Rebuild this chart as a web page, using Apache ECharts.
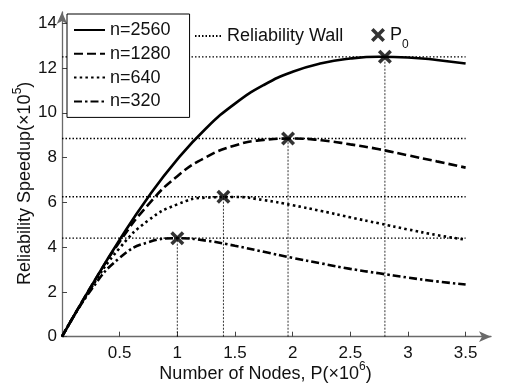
<!DOCTYPE html>
<html>
<head>
<meta charset="utf-8">
<script src="https://cdn.jsdelivr.net/npm/echarts@6/dist/echarts.min.js"></script>
<style>html,body{margin:0;padding:0;background:#fff;}#c{width:505px;height:391px;}</style>
</head>
<body>
<div id="c"></div>
<script>
// Number of nodes P (x10^6)
const P = [0, 0.25, 0.5, 0.75, 1, 1.25, 1.5, 1.75, 2, 2.25, 2.5, 2.75, 3, 3.25, 3.5];
// Reliability speedup (x10^5) per problem size
const n2560 = [0, 2.22, 4.33, 6.25, 7.92, 9.31, 10.41, 11.24, 11.83, 12.21, 12.42, 12.50, 12.47, 12.36, 12.20];
const n1280 = [0, 2.22, 4.24, 5.91, 7.17, 8.02, 8.54, 8.79, 8.85, 8.77, 8.59, 8.37, 8.10, 7.83, 7.55];
const n640  = [0, 2.16, 3.96, 5.20, 5.91, 6.21, 6.24, 6.10, 5.87, 5.61, 5.33, 5.06, 4.79, 4.54, 4.33];
const n320  = [0, 2.07, 3.52, 4.22, 4.40, 4.29, 4.06, 3.79, 3.52, 3.27, 3.03, 2.83, 2.64, 2.47, 2.33];
const seriesNames = ['n=2560', 'n=1280', 'n=640', 'n=320'];
// Reliability wall points P0
const peakP = [2.8, 1.96, 1.4, 1.0];
const peakS = [12.5, 8.85, 6.25, 4.4];
const wallEnd = 3.5;
const xTicks = [0.5, 1, 1.5, 2, 2.5, 3, 3.5];
const yTicks = [0, 2, 4, 6, 8, 10, 12, 14];

const FONT = 'Liberation Sans';
const curves = [n2560, n1280, n640, n320];
const dashTypes = ['solid', [9, 4], [2.5, 3.2], [8, 3, 2.5, 3]];

const series = [];
// reliability wall horizontal lines
peakS.forEach(function (s) {
  series.push({
    name: 'Reliability Wall', type: 'line', symbol: 'none', silent: true,
    data: [[0, s], [wallEnd, s]],
    lineStyle: { color: '#000', width: 1.3, type: [1.5, 2] },
    itemStyle: { color: '#000' }, z: 1
  });
});
peakP.forEach(function (p, i) {
  series.push({
    name: 'Reliability Wall', type: 'line', symbol: 'none', silent: true,
    data: [[p, 0], [p, peakS[i]]],
    lineStyle: { color: '#000', width: 0.8, type: [2, 1.5] },
    itemStyle: { color: '#000' }, z: 1
  });
});
curves.forEach(function (c, i) {
  series.push({
    name: seriesNames[i], type: 'line', symbol: 'none', smooth: true,
    data: P.map(function (p, j) { return [p, c[j]]; }),
    lineStyle: { color: '#000', width: 2.6, type: dashTypes[i], cap: 'butt' },
    itemStyle: { color: '#000' }, z: 3
  });
});
const xPath = 'path://M0,1.8L1.8,0L5,3.2L8.2,0L10,1.8L6.8,5L10,8.2L8.2,10L5,6.8L1.8,10L0,8.2L3.2,5Z';
series.push({
  name: 'P0', type: 'scatter', symbol: xPath, symbolSize: 14,
  data: peakP.map(function (p, i) { return [p, peakS[i]]; }),
  itemStyle: { color: '#000' }, z: 5
});

const chart = echarts.init(document.getElementById('c'), null, { renderer: 'canvas' });
chart.setOption({
  animation: false,
  backgroundColor: '#fff',
  textStyle: { fontFamily: FONT },
  grid: { left: 62, top: 12, right: 14, bottom: 54.3, containLabel: false, outerBoundsMode: 'none' },
  xAxis: {
    type: 'value', min: 0, max: 3.72,
    splitLine: { show: false },
    axisLine: { show: true, onZero: false, symbol: ['none', 'arrow'], symbolSize: [8, 12],
      lineStyle: { color: '#6a6a6a', width: 1.3 } },
    axisTick: { show: true, inside: true, length: 5, customValues: xTicks, lineStyle: { color: '#444' } },
    axisLabel: { customValues: xTicks, fontSize: 17, color: '#111', margin: 8, fontFamily: FONT },
    name: '{a|Number of Nodes, P(×10}{s|6}{a|)}',
    nameLocation: 'middle', nameGap: 24, nameMoveOverlap: false,
    nameTextStyle: {
      padding: [0, 22, 0, 0],
      rich: {
        a: { fontSize: 18, color: '#111', fontFamily: FONT, lineHeight: 22, verticalAlign: 'bottom' },
        s: { fontSize: 12, color: '#111', fontFamily: FONT, lineHeight: 22, verticalAlign: 'top' }
      }
    }
  },
  yAxis: {
    type: 'value', min: 0, max: 14.5,
    splitLine: { show: false },
    axisLine: { show: true, onZero: false, symbol: ['none', 'arrow'], symbolSize: [8, 12],
      lineStyle: { color: '#6a6a6a', width: 1.3 } },
    axisTick: { show: true, inside: true, length: 5, customValues: yTicks, lineStyle: { color: '#444' } },
    axisLabel: { customValues: yTicks, fontSize: 17, color: '#111', margin: 5, fontFamily: FONT },
    name: '{a|Reliability Speedup(×10}{s|5}{a|)}',
    nameLocation: 'middle', nameGap: 28, nameRotate: 90, nameMoveOverlap: false,
    nameTextStyle: {
      padding: [0, 18, 0, 0],
      rich: {
        a: { fontSize: 18, color: '#111', fontFamily: FONT, lineHeight: 22, verticalAlign: 'bottom' },
        s: { fontSize: 12, color: '#111', fontFamily: FONT, lineHeight: 22, verticalAlign: 'top' }
      }
    }
  },
  legend: [
    {
      data: seriesNames, orient: 'vertical', left: 67, top: 14,
      padding: [7, 19, 7, 6], itemWidth: 31, itemHeight: 14, itemGap: 5.8,
      backgroundColor: '#fff', borderColor: '#000', borderWidth: 1,
      itemStyle: { opacity: 0 },
      textStyle: { fontSize: 18, color: '#111', fontFamily: FONT },
      selectedMode: false
    },
    {
      data: ['Reliability Wall'], orient: 'horizontal', left: 189, top: 22,
      padding: 5, itemWidth: 27, itemHeight: 14,
      itemStyle: { opacity: 0 },
      textStyle: { fontSize: 18, color: '#111', fontFamily: FONT },
      selectedMode: false
    },
    {
      data: ['P0'], orient: 'horizontal', left: 366, top: 21,
      padding: 5, itemWidth: 14, itemHeight: 14,
      formatter: function () { return '{a|P}{s|0}'; },
      textStyle: { fontSize: 18, color: '#111', fontFamily: FONT,
        rich: {
          a: { fontSize: 18, color: '#111', fontFamily: FONT, verticalAlign: 'middle' },
          s: { fontSize: 12, color: '#111', fontFamily: FONT, verticalAlign: 'middle', padding: [20, 0, 0, 0] }
        }
      },
      selectedMode: false
    }
  ],
  series: series
});
</script>
</body>
</html>
